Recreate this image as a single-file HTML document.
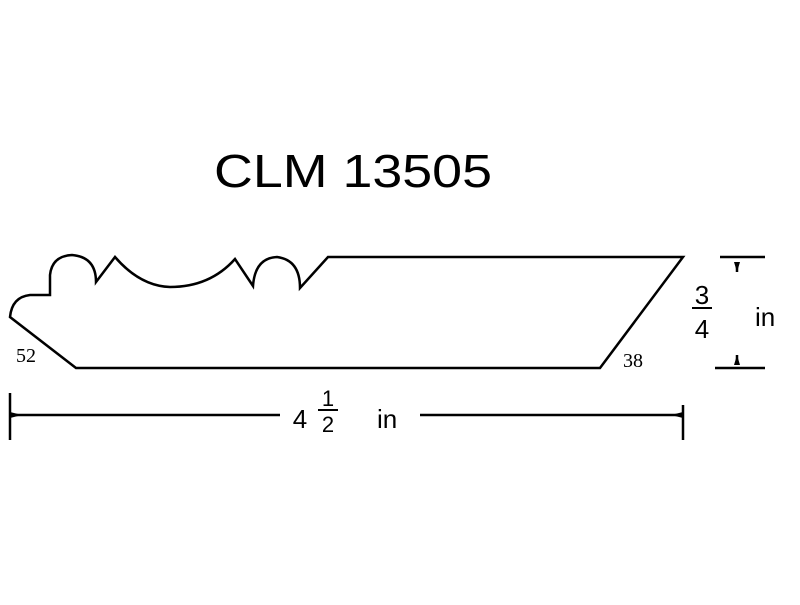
<!DOCTYPE html><html><head><style>body{margin:0;background:#fff}</style></head><body>
<svg width="800" height="600" viewBox="0 0 800 600" xmlns="http://www.w3.org/2000/svg" font-family="Liberation Sans, sans-serif">
<rect width="800" height="600" fill="#fff"/>
<text x="353" y="187" font-size="46" text-anchor="middle" fill="#000" textLength="278" lengthAdjust="spacingAndGlyphs">CLM 13505</text>
<g fill="none" stroke="#000" stroke-width="2.5">
<path d="M76,368 L10,317 Q12,297 30,295 L50,295 L50,275 Q52,256 72,255 Q96,257 96,282 L115,257 Q140,286 170,287 Q210,287 235,259 L253,286 Q255,258 277,257 Q300,260 300,288 L328,257 L683,257 L600,368 Z"/>
<path d="M720,257 H765 M715,368 H765 M737,262 V272 M737,355 V365"/>
<path d="M10,415 H280 M420,415 H683 M10,393 V440 M683,405 V440"/>
<path d="M692,308 H712" stroke-width="2"/>
<path d="M318,410 H338" stroke-width="2"/>
</g>
<path d="M734,262 L740,262 L737,272 Z M734,365 L740,365 L737,355 Z M10,412 L22,415 L10,418 Z M683,412 L671,415 L683,418 Z" fill="#000"/>
<text x="702" y="304" font-size="26" text-anchor="middle">3</text>
<text x="702" y="338" font-size="26" text-anchor="middle">4</text>
<text x="755" y="326" font-size="26">in</text>
<text x="300" y="428" font-size="26" text-anchor="middle">4</text>
<text x="328" y="406" font-size="22" text-anchor="middle">1</text>
<text x="328" y="432" font-size="22" text-anchor="middle">2</text>
<text x="377" y="428" font-size="26">in</text>
<text x="16" y="362" font-size="20" font-family="Liberation Serif, serif">52</text>
<text x="623" y="367" font-size="20" font-family="Liberation Serif, serif">38</text>
</svg></body></html>
